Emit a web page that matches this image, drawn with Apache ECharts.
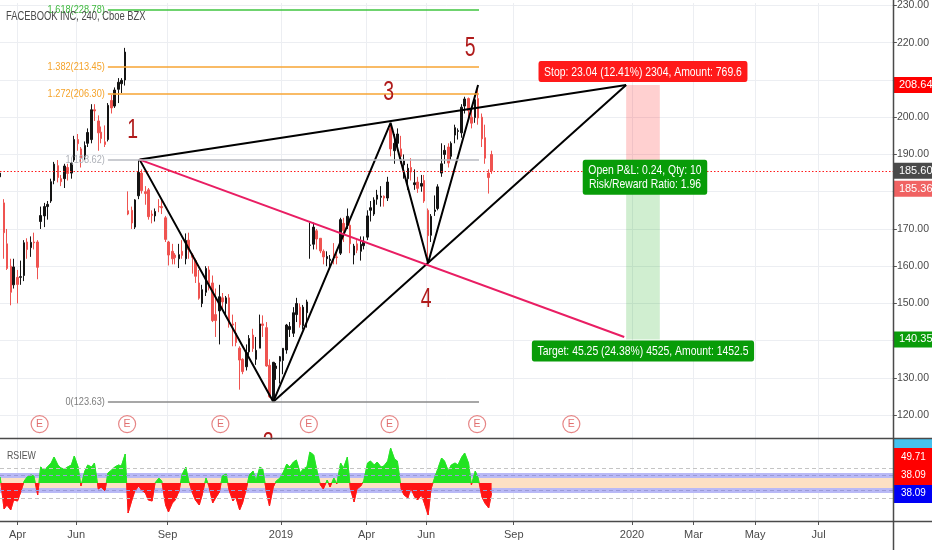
<!DOCTYPE html>
<html>
<head>
<meta charset="utf-8">
<script src="https://cdn.jsdelivr.net/npm/echarts@6/dist/echarts.min.js"></script>
<style>html,body{margin:0;padding:0;background:#fff}#c{width:932px;height:550px}</style>
</head>
<body>
<div id="c"></div>
<script>
// ---------------- DATA ----------------
const candleDates = [
 '2018-03-15','2018-03-19','2018-03-22','2018-03-26','2018-03-29',
 '2018-04-02','2018-04-05','2018-04-09','2018-04-12','2018-04-16','2018-04-19','2018-04-23','2018-04-26','2018-04-30',
 '2018-05-03','2018-05-07','2018-05-10','2018-05-14','2018-05-17','2018-05-21','2018-05-24','2018-05-28','2018-05-31',
 '2018-06-04','2018-06-07','2018-06-11','2018-06-14','2018-06-18','2018-06-21','2018-06-25','2018-06-28',
 '2018-07-02','2018-07-05','2018-07-09','2018-07-12','2018-07-16','2018-07-19','2018-07-23','2018-07-26','2018-07-30',
 '2018-08-02','2018-08-06','2018-08-09','2018-08-13','2018-08-16','2018-08-20','2018-08-23','2018-08-27','2018-08-30',
 '2018-09-03','2018-09-06','2018-09-10','2018-09-13','2018-09-17','2018-09-20','2018-09-24','2018-09-27',
 '2018-10-01','2018-10-04','2018-10-08','2018-10-11','2018-10-15','2018-10-18','2018-10-22','2018-10-25','2018-10-29',
 '2018-11-01','2018-11-05','2018-11-08','2018-11-12','2018-11-15','2018-11-19','2018-11-22','2018-11-26','2018-11-29',
 '2018-12-03','2018-12-06','2018-12-10','2018-12-13','2018-12-17','2018-12-20','2018-12-24','2018-12-27','2018-12-31',
 '2019-01-03','2019-01-07','2019-01-10','2019-01-14','2019-01-17','2019-01-21','2019-01-24','2019-01-28','2019-01-31',
 '2019-02-04','2019-02-07','2019-02-11','2019-02-14','2019-02-18','2019-02-21','2019-02-25','2019-02-28',
 '2019-03-04','2019-03-07','2019-03-11','2019-03-14','2019-03-18','2019-03-21','2019-03-25','2019-03-28',
 '2019-04-01','2019-04-04','2019-04-08','2019-04-11','2019-04-15','2019-04-18','2019-04-22','2019-04-25','2019-04-29',
 '2019-05-02','2019-05-06','2019-05-09','2019-05-13','2019-05-16','2019-05-20','2019-05-23','2019-05-27','2019-05-30',
 '2019-06-03','2019-06-06','2019-06-10','2019-06-13','2019-06-17','2019-06-20','2019-06-24','2019-06-27',
 '2019-07-01','2019-07-04','2019-07-08','2019-07-11','2019-07-15','2019-07-18','2019-07-22','2019-07-25','2019-07-29',
 '2019-08-01','2019-08-05','2019-08-08'
];
// [open, close, low, high]
const candleOHLC = [
 [184,185,182.5,186.5],[177,169,162,178],[166,159.4,159,170],[160,153,149.5,162],[155,159.8,154,162],
 [157,155.1,150,159],[157,157.2,155,161.5],[157.5,166.3,156,167],[166.5,164.5,162,167.5],[165,166.4,162.5,168],[166.5,166.3,164.5,169],[166.5,159.7,156.5,167],[172,173.6,170,176],[173.5,176,170.5,177],
 [176,176.6,172.5,177.5],[177.5,182.7,177,183.5],[183,187.4,182,188],[187,183.8,182.5,188.5],[183.5,182.7,181.5,184.5],[183.5,186.9,181,187.5],[186.5,184.9,183,187.5],[185,187.7,183.5,188],[188.5,194,188,195],
 [194,192.9,191,195.5],[191.5,189.1,186.5,192],[189.5,192.4,188.5,193.5],[193,195.9,192,197],[194,202,193,203.5],[202,201.7,199,203.5],[199,195.8,191,200.5],[196,194.3,193,197.5],
 [193.4,192.7,192,197.8],[194,203.2,193.5,203.8],[204.5,202.5,201,206],[203,207.3,202.5,208],[207.5,209.4,203.8,210.5],[209,209.9,206.5,210.5],[210,217.5,208.5,218.62],[174.9,174,173.7,180.1],[175,171.6,170,176],
 [170.5,177.8,170,178],[178.9,185.2,178,188.62],[185,180.3,179.5,186],[180,179.5,176.5,181.5],[180.5,173.3,172.5,181],[174,173.6,171.5,175],[173.5,174.7,172,175.5],[176,175.9,174.5,178],[176,175.7,174,178],
 [173,167.2,166.5,173.5],[166.5,163,160.2,166.8],[164,162,160.5,166],[163,162.3,160.5,163.5],[162,163.1,159.5,166],[164,162.9,162,167],[162,166.9,160.5,168.8],[167,164.5,162,169],
 [163,162.4,158,163.5],[161.5,157.3,155.5,162],[155.5,151.4,151,159],[150,153.7,149,155],[153,159.4,152,160],[159,154.9,153.5,160],[155.5,145.4,145,157.5],[147,145.4,141,154],[148,151.8,139,155],
 [151.5,150.4,148.5,152.8],[150,151.5,146.5,152],[151.5,145,143.5,152.5],[144.5,144.2,138.5,147],[142,139.5,138.5,145],[138,134.8,126.85,138.5],[135,131.7,131,135.3],[133,136.8,132,139],[137,140.6,136,141.5],
 [141.5,137.9,137,143.2],[135,137.4,133.5,141],[138,144.5,138,147],[144.5,144.1,141,146.8],[143.5,133.2,133,145],[133.4,124.95,124.6,135],[123.9,134.2,123.63,134.3],[132.5,133.2,129.5,134],[134.5,135.7,128.5,135.9],
 [134.7,137.95,131,138],[137.5,144.2,136.5,144.5],[143,143.8,141,145],[142,147.5,141,149],[147,150,145,151.5],[149,144.3,143.5,150],[144,149,143,149.6],[147.5,150.4,143.5,151],[165.6,165.7,162,171.7],
 [165.9,170.5,164.5,171.7],[169.5,167.3,164.5,170],[167.5,164.1,163.5,167.5],[164,162.5,160.5,164.5],[162,162.6,160,164],[161.5,161.9,159.6,163],[163,162.8,160.5,166.2],[162.5,162.3,160.5,164],
 [163.5,172.5,163,173],[171.5,169.6,166.5,173],[171,173.4,170,175.5],[171,166,163.5,172],[163,165.4,160.5,166],[166,164.3,163.5,167],[164,165.9,161.5,168],[165.5,166.7,164.5,168],
 [167.8,173.5,167,175],[175,175.7,172,177.5],[174,177.8,173.5,178.5],[178,179.1,176.5,180.5],[178.5,178.8,176,181.5],[178.8,178.3,176,179],[178.3,182.6,177.5,184],[196.9,191.5,189.5,198.48],[191,193,187.5,195.5],
 [193,195.5,191,197],[191.5,189.5,187.5,195],[187.2,188.3,183.5,190],[183.5,186.3,180.5,187.5],[186.5,185.3,183,189],[181.9,182.4,180.5,186],[182.6,180.9,179.7,184],[181.5,182.2,180,184.5],[183,177.5,177,184.5],
 [175,168.2,160.84,175.5],[168.3,173.4,166.5,174],[174.7,175.1,173.5,179],[175.5,181.3,175,182],[185,187.5,184,193],[190,191.1,187.5,192.5],[192,187.7,186.5,193],[189.5,193,188.5,193.5],
 [195.2,197.2,193,198],[196.2,196.4,194,197],[195.8,202.7,194.5,203.5],[203,204.9,201,205.5],[205,201.8,199.5,205.3],[200,198.4,197,203],[199.9,204.7,198.5,205.5],[205,199.8,198,208.66],[200,194.2,192,201],
 [194.5,189,187.5,198],[185,183.8,179.5,186],[190,185.6,184.8,191]
];
const rsiValues = [
 56,24,28,23,33,
 32,40,52,56,58,57,38,66,63,
 66,70,76,68,65,64,66,68,77,
 66,47,62,68,66,70,44,46,
 42,60,63,66,68,67,79,20,33,
 42,47,43,40,33,32,50,55,52,
 28,21,30,33,42,58,66,52,
 40,33,28,38,55,47,30,35,41,
 57,59,43,32,36,23,30,44,58,
 62,52,66,64,40,27,46,52,55,
 60,69,66,71,73,60,64,66,81,
 78,64,48,44,53,46,55,49,
 70,65,76,45,31,44,47,52,
 70,72,68,71,66,67,72,85,74,
 72,44,38,35,45,36,33,38,30,
 18,44,56,64,75,72,62,68,
 70,68,76,80,70,48,62,55,36,
 30,25,40
];
const earningsDates = ['2018-04-25','2018-07-25','2018-10-30','2019-01-30','2019-04-24','2019-07-24','2019-10-30'];
const priceTicks = [120,130,140,150,160,170,180,190,200,210,220,230];
const priceTickLabels = [120,130,150,160,170,190,200,220,230]; // 140, 180, 210 are hidden behind the price badges
const timeTickDates = ['2018-04-02','2018-06-02','2018-09-05','2019-01-01','2019-03-31','2019-06-01','2019-08-31','2020-01-01','2020-03-05','2020-05-08','2020-07-13'];
const timeTickLabels = ['Apr','Jun','Sep','2019','Apr','Jun','Sep','2020','Mar','May','Jul'];
const fibRatios = ['1.618','1.382','1.272','1','0'];
const fibPrices = [228.78, 213.45, 206.30, 188.62, 123.63];
const fibSpan = ['2018-07-05','2019-07-26'];
const waveLabels = ['1','2','3','4','5'];
const wavePivots = [['2018-08-07',188.62],['2018-12-24',123.63],['2019-04-25',198.5],['2019-06-03',160.84],['2019-07-25',208.66]];
const apexPoint = ['2019-12-26', 208.64];
const pinkEnd = ['2019-12-24', 141.0];
const posSpan = ['2019-12-26','2020-01-30'];
const posEntry = 185.60, posStop = 208.64, posTarget = 140.35;
const lastPrice = 185.60, altPrice = 185.36;
const posTexts = ['Stop: 23.04 (12.41%) 2304, Amount: 769.6','Open P&L: 0.24, Qty: 10\nRisk/Reward Ratio: 1.96','Target: 45.25 (24.38%) 4525, Amount: 1452.5'];
const rsiBadges = ['49.71','38.09','38.09'];
const rsiMidLevel = 50;

// ---------------- HELPERS / LAYOUT ----------------
const FONT = "'Liberation Sans','Arimo',sans-serif";
const SQ = 0.8; // horizontal squeeze for narrow text
const DAY0 = Date.UTC(2018,0,1);
const dayNum = s => { const p = s.split('-').map(Number); return (Date.UTC(p[0],p[1]-1,p[2]) - DAY0) / 86400000; };
const X_MIN = 72.8, X_MAX = 1001.4;
const Y_MIN = 113.87, Y_MAX = 230.67;
const R_MIN = 12, R_MAX = 94;
const RSI_TOP = 439, RSI_H = 82;
const E_ROW = 117.6;
const tickDays = timeTickDates.map(dayNum);
const tickLabelMap = {}; tickDays.forEach((d,i)=>{ tickLabelMap[d] = timeTickLabels[i]; });
const pt = p => [dayNum(p[0]), p[1]];

const fibLineColors = ['#3fc43f','#f7a533','#f7a533','#b8bbc2','#8a8a8a'];
const fibTextColors = ['#3fb93f','#f5a32a','#f5a32a','#aeb1b8','#7d7d7d'];
const waveOffsets = [[-7,-29],[-5,42],[-2,-30],[-2,36],[-8,-36]];

const badge = (val, bg, extra) => ({
  yAxis: val,
  lineStyle: { color: 'rgba(0,0,0,0)', width: 1 },
  label: Object.assign({ show: true, position: 'end', formatter: val.toFixed(2), backgroundColor: bg,
    color: '#fff', fontSize: 11, fontFamily: FONT, padding: [3, 8, 2, 5], distance: 1 }, extra || {})
});

const fibLines = fibPrices.map((p,i)=>[
  { coord: [dayNum(fibSpan[0]), p], lineStyle: { color: fibLineColors[i], width: 1.5, type: 'solid' }, label: { show: false } },
  { coord: [dayNum(fibSpan[1]), p] }
]);

const posStartD = dayNum(posSpan[0]), posEndD = dayNum(posSpan[1]);
const posMidD = (posStartD + posEndD) / 2;

const midOff = (R_MAX - rsiMidLevel) / (R_MAX - R_MIN);
const rsiGradient = { type: 'linear', x: 0, y: RSI_TOP, x2: 0, y2: RSI_TOP + RSI_H, global: true,
  colorStops: [ { offset: 0, color: '#22e322' }, { offset: midOff, color: '#22e322' },
                { offset: midOff, color: '#ff1414' }, { offset: 1, color: '#ff1414' } ] };

const chart = echarts.init(document.getElementById('c'), null, { renderer: 'canvas' });

const option = {
  animation: false,
  backgroundColor: '#fff',
  grid: [
    { left: 0, top: 0, width: 893, height: 438 },
    { left: 0, top: RSI_TOP, width: 893, height: RSI_H }
  ],
  xAxis: [
    { type: 'value', gridIndex: 0, min: X_MIN, max: X_MAX,
      axisLine: { show: false }, axisTick: { show: false, customValues: tickDays }, axisLabel: { show: false, customValues: tickDays },
      splitLine: { show: true, lineStyle: { color: '#eceef2', width: 1 } } },
    { type: 'value', gridIndex: 1, min: X_MIN, max: X_MAX,
      axisLine: { show: false },
      axisTick: { show: true, length: 4, customValues: tickDays, lineStyle: { color: '#555' } },
      axisLabel: { show: true, customValues: tickDays, formatter: v => tickLabelMap[v] || '', color: '#4a4a4a', fontSize: 11, fontFamily: FONT, margin: 8 },
      splitLine: { show: true, lineStyle: { color: '#eceef2', width: 1 } } }
  ],
  yAxis: [
    { type: 'value', gridIndex: 0, position: 'right', min: Y_MIN, max: Y_MAX,
      axisLine: { show: false },
      axisTick: { show: true, length: 4, customValues: priceTicks, lineStyle: { color: '#555' } },
      axisLabel: { show: true, customValues: priceTickLabels, formatter: v => v.toFixed(2), color: '#4a4a4a', fontSize: 10.5, fontFamily: FONT, margin: 4 },
      splitLine: { show: true, lineStyle: { color: '#eceef2', width: 1 } } },
    { type: 'value', gridIndex: 1, position: 'right', min: R_MIN, max: R_MAX,
      axisLine: { show: false }, axisTick: { show: false }, axisLabel: { show: false }, splitLine: { show: false } }
  ],
  series: [
    { // 0 candles
      type: 'candlestick', xAxisIndex: 0, yAxisIndex: 0, barWidth: 2, z: 3,
      data: candleDates.map((d,i)=>[dayNum(d)].concat(candleOHLC[i])),
      itemStyle: { color: '#141414', color0: '#ef5350', borderColor: '#141414', borderColor0: '#ef5350', borderWidth: 1 },
      markLine: { silent: true, symbol: ['none','none'], animation: false, z: 6,
        data: fibLines.concat([
          { yAxis: lastPrice, lineStyle: { color: '#ff1a1a', width: 1, type: [1.5, 2] },
            label: { show: true, position: 'end', formatter: lastPrice.toFixed(2), backgroundColor: '#4a4a4a',
              color: '#fff', fontSize: 11, fontFamily: FONT, padding: [3, 8, 2, 5], distance: 1 } },
          badge(posStop, '#ff0000'),
          badge(altPrice, '#f06262', { offset: [0, 17] }),
          badge(posTarget, '#0a9c0a')
        ])
      },
      markArea: { silent: true,
        data: [
          [{ xAxis: posStartD, yAxis: posEntry, itemStyle: { color: 'rgba(255,40,40,0.22)' } }, { xAxis: posEndD, yAxis: posStop }],
          [{ xAxis: posStartD, yAxis: posTarget, itemStyle: { color: 'rgba(20,170,20,0.2)' } }, { xAxis: posEndD, yAxis: posEntry }]
        ] }
    },
    { // 1 zigzag
      type: 'line', xAxisIndex: 0, yAxisIndex: 0, z: 5, silent: true, symbol: 'none',
      data: wavePivots.map(pt), lineStyle: { color: '#000', width: 2 } },
    { // 2 upper trend
      type: 'line', xAxisIndex: 0, yAxisIndex: 0, z: 5, silent: true, symbol: 'none',
      data: [pt(wavePivots[0]), pt(apexPoint)], lineStyle: { color: '#000', width: 2 } },
    { // 3 lower trend
      type: 'line', xAxisIndex: 0, yAxisIndex: 0, z: 5, silent: true, symbol: 'none',
      data: [pt(wavePivots[1]), pt(apexPoint)], lineStyle: { color: '#000', width: 2 } },
    { // 4 pink line
      type: 'line', xAxisIndex: 0, yAxisIndex: 0, z: 5, silent: true, symbol: 'none',
      data: [pt(wavePivots[0]), pt(pinkEnd)], lineStyle: { color: '#e91e63', width: 2 } },
    { // 5 earnings
      type: 'scatter', xAxisIndex: 0, yAxisIndex: 0, z: 4, silent: true,
      data: earningsDates.map(d=>[dayNum(d), E_ROW]), symbol: 'circle', symbolSize: 17,
      itemStyle: { color: '#fff', borderColor: '#e06666', borderWidth: 1.2 },
      label: { show: true, position: 'inside', formatter: 'E', color: '#d94c4c', fontSize: 10.5, fontFamily: FONT } },
    { // 6 RSI bands (behind)
      type: 'line', xAxisIndex: 1, yAxisIndex: 1, z: 1, silent: true, symbol: 'none',
      data: candleDates.map((d,i)=>[dayNum(d), rsiValues[i]]), lineStyle: { opacity: 0, width: 0 }, itemStyle: { opacity: 0 },
      markArea: { silent: true, data: [
        [{ yAxis: 55, itemStyle: { color: '#b9b9f6' } }, { yAxis: 60 }],
        [{ yAxis: 45, itemStyle: { color: '#fde0c4' } }, { yAxis: 55 }],
        [{ yAxis: 40, itemStyle: { color: '#b9b9f6' } }, { yAxis: 45 }]
      ] },
      markLine: { silent: true, symbol: ['none','none'], label: { show: false },
        data: [
          { yAxis: 65, lineStyle: { color: '#c4c4c4', type: [4, 3], width: 1.2 } },
          { yAxis: 57.5, lineStyle: { color: '#9a9ad8', type: [4, 3], width: 1 } },
          { yAxis: 42.5, lineStyle: { color: '#9a9ad8', type: [4, 3], width: 1 } },
          { yAxis: 35, lineStyle: { color: '#c4c4c4', type: [4, 3], width: 1.2 } }
        ] }
    },
    { // 7 RSI
      type: 'line', xAxisIndex: 1, yAxisIndex: 1, z: 3, silent: true, symbol: 'none',
      data: candleDates.map((d,i)=>[dayNum(d), rsiValues[i]]),
      lineStyle: { width: 0.8, color: rsiGradient }, itemStyle: { color: '#22e322' },
      areaStyle: { origin: rsiMidLevel, opacity: 1, color: rsiGradient }
    }
  ],
  graphic: [
    { id: 'hdr', type: 'text', x: 6, y: 17, scaleX: 0.78, z: 50, style: { text: 'FACEBOOK INC, 240, Cboe BZX', fill: '#4a4a4a', fontSize: 12, fontFamily: FONT, verticalAlign: 'middle' } },
    { id: 'rsiName', type: 'text', x: 7, y: 456, scaleX: SQ, z: 50, style: { text: 'RSIEW', fill: '#555', fontSize: 11, fontFamily: FONT, verticalAlign: 'middle' } },
    { id: 'clip2', type: 'rect', shape: { x: 256, y: 439.5, width: 24, height: 14 }, z: 60, style: { fill: '#fff' } },
    { id: 'b0', type: 'rect', shape: { x: 894, y: 439, width: 38, height: 9 }, z: 60, style: { fill: '#45c1ee' } },
    { id: 'b1', type: 'rect', shape: { x: 894, y: 448, width: 38, height: 37 }, z: 60, style: { fill: '#ff0000' } },
    { id: 'b2', type: 'rect', shape: { x: 894, y: 485, width: 38, height: 18 }, z: 60, style: { fill: '#0000f5' } },
    { id: 't0', type: 'text', x: 901, y: 457, scaleX: 0.9, z: 61, style: { text: rsiBadges[0], fill: '#fff', fontSize: 11, fontFamily: FONT, verticalAlign: 'middle' } },
    { id: 't1', type: 'text', x: 901, y: 475, scaleX: 0.9, z: 61, style: { text: rsiBadges[1], fill: '#fff', fontSize: 11, fontFamily: FONT, verticalAlign: 'middle' } },
    { id: 't2', type: 'text', x: 901, y: 493, scaleX: 0.9, z: 61, style: { text: rsiBadges[2], fill: '#fff', fontSize: 11, fontFamily: FONT, verticalAlign: 'middle' } },
    { id: 'l0', type: 'line', z: 70, shape: { x1: 0, y1: 438.5, x2: 932, y2: 438.5 }, style: { stroke: '#4a4a4a', lineWidth: 1.5 } },
    { id: 'l1', type: 'line', z: 70, shape: { x1: 0, y1: 521.5, x2: 932, y2: 521.5 }, style: { stroke: '#4a4a4a', lineWidth: 1.5 } },
    { id: 'l2', type: 'line', z: 70, shape: { x1: 893.5, y1: 0, x2: 893.5, y2: 550 }, style: { stroke: '#4a4a4a', lineWidth: 1.5 } }
  ]
};
chart.setOption(option);

// ---- narrow text annotations placed through the chart's own scales ----
const toPx = (d, p) => chart.convertToPixel({ xAxisIndex: 0, yAxisIndex: 0 }, [d, p]);
const extra = [];
fibPrices.forEach((p, i) => {
  const q = toPx(dayNum(fibSpan[0]), p);
  extra.push({ id: 'fib' + i, type: 'text', x: q[0] - 3, y: q[1], scaleX: SQ, z: 40,
    style: { text: fibRatios[i] + '(' + p.toFixed(2) + ')', fill: fibTextColors[i], fontSize: 11.5, fontFamily: FONT, align: 'right', verticalAlign: 'middle' } });
});
wavePivots.forEach((p, i) => {
  const q = toPx(dayNum(p[0]), p[1]);
  extra.push({ id: 'wave' + i, type: 'text', x: q[0] + waveOffsets[i][0], y: q[1] + waveOffsets[i][1], scaleX: 0.72, z: 40,
    style: { text: waveLabels[i], fill: '#b01b1b', fontSize: 27, fontFamily: FONT, align: 'center', verticalAlign: 'middle' } });
});
const qs = toPx(posMidD, posStop), qe = toPx(posMidD, posEntry), qt = toPx(posMidD, posTarget);
const boxStyle = (txt, bg, va) => ({ text: txt, fill: '#fff', fontSize: 13, fontFamily: FONT, align: 'center', verticalAlign: va,
  backgroundColor: bg, padding: [4, 7, 3, 7], borderRadius: 3, lineHeight: 14 });
extra.push({ id: 'boxStop', type: 'text', x: qs[0], y: qs[1] - 3, scaleX: SQ, z: 45, style: boxStyle(posTexts[0], '#ff1a1a', 'bottom') });
extra.push({ id: 'boxPnl', type: 'text', x: qe[0] + 2, y: qe[1] - 11, scaleX: SQ, z: 45, style: boxStyle(posTexts[1], '#089c08', 'top') });
extra.push({ id: 'boxTgt', type: 'text', x: qt[0], y: qt[1] + 1, scaleX: SQ, z: 45, style: boxStyle(posTexts[2], '#089c08', 'top') });
chart.setOption({ graphic: extra });
</script>
</body>
</html>
